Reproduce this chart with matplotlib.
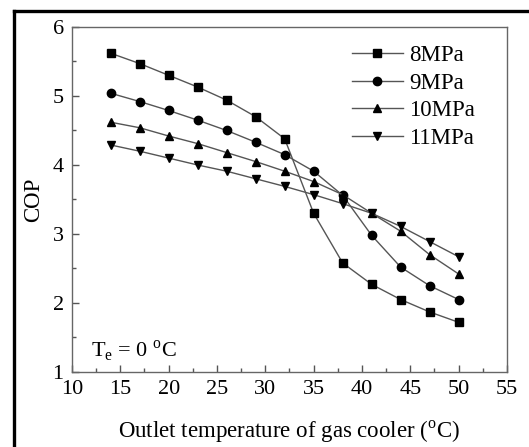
import matplotlib
matplotlib.use('Agg')
import matplotlib.pyplot as plt
from matplotlib.lines import Line2D

plt.rcParams['font.family'] = 'Liberation Serif'
plt.rcParams['mathtext.fontset'] = 'custom'
plt.rcParams['mathtext.rm'] = 'Liberation Serif'

temp = [14, 17, 20, 23, 26, 29, 32, 35, 38, 41, 44, 47, 50]
cop8 = [5.62, 5.47, 5.30, 5.13, 4.94, 4.70, 4.38, 3.30, 2.58, 2.27, 2.05, 1.87, 1.72]
cop9 = [5.04, 4.92, 4.79, 4.65, 4.50, 4.33, 4.15, 3.91, 3.56, 2.98, 2.52, 2.25, 2.05]
cop10 = [4.62, 4.54, 4.42, 4.31, 4.18, 4.05, 3.91, 3.76, 3.57, 3.30, 3.04, 2.70, 2.42]
cop11 = [4.29, 4.20, 4.10, 4.00, 3.91, 3.80, 3.69, 3.57, 3.44, 3.30, 3.11, 2.89, 2.67]
labels = ['8MPa', '9MPa', '10MPa', '11MPa']

fig = plt.figure(figsize=(5.29, 4.47), dpi=100)
ax = fig.add_axes([0.1361, 0.1678, 0.8223, 0.7718])

series = [cop8, cop9, cop10, cop11]
markers = ['s', 'o', '^', 'v']
for ys, m, lab in zip(series, markers, labels):
    ax.plot(temp, ys, color='#555555', lw=1.0, marker=m, ms=6,
            mfc='black', mec='black', label=lab)

ax.set_xlim(10, 55)
ax.set_ylim(1, 6)
ax.set_xticks(range(10, 56, 5))
ax.set_xticks([12.5 + 5 * i for i in range(9)], minor=True)
ax.set_yticks(range(1, 7))
ax.set_yticks([1.5, 2.5, 3.5, 4.5, 5.5], minor=True)
ax.tick_params(direction='in', labelsize=16, length=5, width=1, color='#555555')
ax.tick_params(axis='x', pad=6)
ax.tick_params(axis='y', pad=6)
ax.tick_params(which='minor', direction='in', length=3, width=1, color='#555555')
for s in ax.spines.values():
    s.set_color('#666666')
    s.set_linewidth(1.0)

ax.set_xlabel('Outlet temperature of gas cooler ($^\\mathrm{o}$C)', fontsize=16.5, labelpad=14)
ax.set_ylabel('COP', fontsize=16.5, labelpad=6)

ax.text(12.0, 1.22, 'T$_\\mathrm{e}$ = 0 $^\\mathrm{o}$C', fontsize=16)

ax.legend(loc='upper left', bbox_to_anchor=(0.644, 0.947), frameon=False, fontsize=16.5,
          handlelength=2.2, handletextpad=0.3, labelspacing=0.28,
          borderaxespad=0, borderpad=0)

# black frame edges (left and top) around the figure
fig.add_artist(Line2D([13.5 / 529, 13.5 / 529], [0, 1 - 10.5 / 447], color='black',
                      lw=2.4, transform=fig.transFigure, solid_capstyle='projecting'))
fig.add_artist(Line2D([13.5 / 529, 1], [1 - 10.5 / 447, 1 - 10.5 / 447], color='black',
                      lw=2.4, transform=fig.transFigure, solid_capstyle='projecting'))

fig.savefig('out.png', dpi=100)
